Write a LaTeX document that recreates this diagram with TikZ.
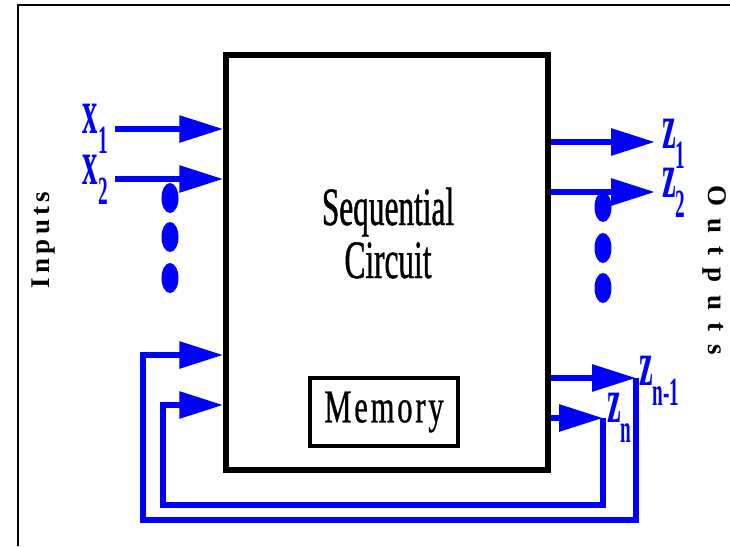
\documentclass[tikz,border=0pt]{standalone}
\usepackage{fontspec}
\setmainfont{Liberation Serif}
\newfontfamily\narrowfont[FakeStretch=0.58,FakeBold=0.8]{Liberation Serif}
\newfontfamily\memfont[FakeStretch=0.65,LetterSpace=6,FakeBold=0.6]{Liberation Serif}
\newfontfamily\lblfont[FakeStretch=0.48]{Liberation Serif}
\newfontfamily\infont[LetterSpace=16]{Liberation Serif}
\newfontfamily\outfont[LetterSpace=46]{Liberation Serif}
\usetikzlibrary{arrows.meta,positioning}
\definecolor{sigblue}{RGB}{0,0,255}
\newcommand\sublbl[2]{#1\raisebox{-20pt}{\fontsize{40}{40}\selectfont #2}}
\tikzset{
  >={Triangle[length=44pt,width=26pt]},
  box/.style={draw=black,line width=#1,inner sep=0pt},
  box/.default=5.5pt,
  flow/.style={->,line width=6pt,draw=sigblue},
  sig/.style={text=sigblue,inner sep=0pt,font=\lblfont\bfseries\fontsize{64}{64}\selectfont},
  side/.style={inner sep=0pt,font=#1\bfseries\fontsize{27}{27}\selectfont},
  side/.default=\infont,
  title/.style={anchor=base,font=\narrowfont\fontsize{54}{54}\selectfont},
}
\begin{document}
\begin{tikzpicture}[x=1pt,y=-1pt]
  \useasboundingbox (0,0) rectangle (730,546);
  \fill[white] (0,0) rectangle (730,546);
  \draw[line width=2pt] (18,546) -- (18,5) -- (730,5);
  % circuit
  \node[box,minimum width=322pt,minimum height=415pt] (circ) at (387,262.5) {};
  \node[box=4.5pt,minimum width=148pt,minimum height=68pt,font=\memfont\fontsize{47}{47}\selectfont] (mem) at (384,412) {Memory};
  \node[title] (seq) at (388,225) {Sequential};
  \node[title] (circtxt) at (388,278) {Circuit};
  % inputs
  \node[sig,anchor=base east] (x1) at (108,133) {\sublbl{x}{1}};
  \node[sig,anchor=base east] (x2) at (108,184) {\sublbl{x}{2}};
  \coordinate (in1) at (115,129);
  \coordinate (in2) at (115,179);
  \draw[flow] (in1) -- (in1 -| circ.west);
  \draw[flow] (in2) -- (in2 -| circ.west);
  \foreach \y in {198,237,278}
    \fill[sigblue] (170,\y) ellipse [x radius=8.5pt,y radius=15pt];
  \node[side,rotate=90] (inputs) at (44,240) {Inputs};
  % outputs
  \coordinate (out1) at (655,142);
  \coordinate (out2) at (655,192);
  \coordinate (outm) at (636,378);
  \coordinate (outn) at (603,418);
  \draw[flow] (out1 -| circ.east) -- (out1);
  \draw[flow] (out2 -| circ.east) -- (out2);
  \draw[flow] (outm -| circ.east) -- (outm);
  \draw[flow] (outn -| circ.east) -- (outn);
  \node[sig,anchor=base west] (z1) at (662,148) {\sublbl{z}{1}};
  \node[sig,anchor=base west] (z2) at (662,197) {\sublbl{z}{2}};
  \node[sig,anchor=base west] (zm) at (639,385) {\sublbl{z}{n-1}};
  \node[sig,anchor=base west] (zn) at (607,422) {\sublbl{z}{n}};
  \foreach \y in {207,248,288}
    \fill[sigblue] (603,\y) ellipse [x radius=8.5pt,y radius=15pt];
  \node[side=\outfont,rotate=-90] (outputs) at (715,270) {Outputs};
  % feedback
  \coordinate (fb1) at (143,355);
  \coordinate (fb2) at (163,405);
  \draw[flow] (outm) -- ++(0,142) -| (fb1) -- (fb1 -| circ.west);
  \draw[flow] (outn) -- ++(0,87) -| (fb2) -- (fb2 -| circ.west);
\end{tikzpicture}
\end{document}
